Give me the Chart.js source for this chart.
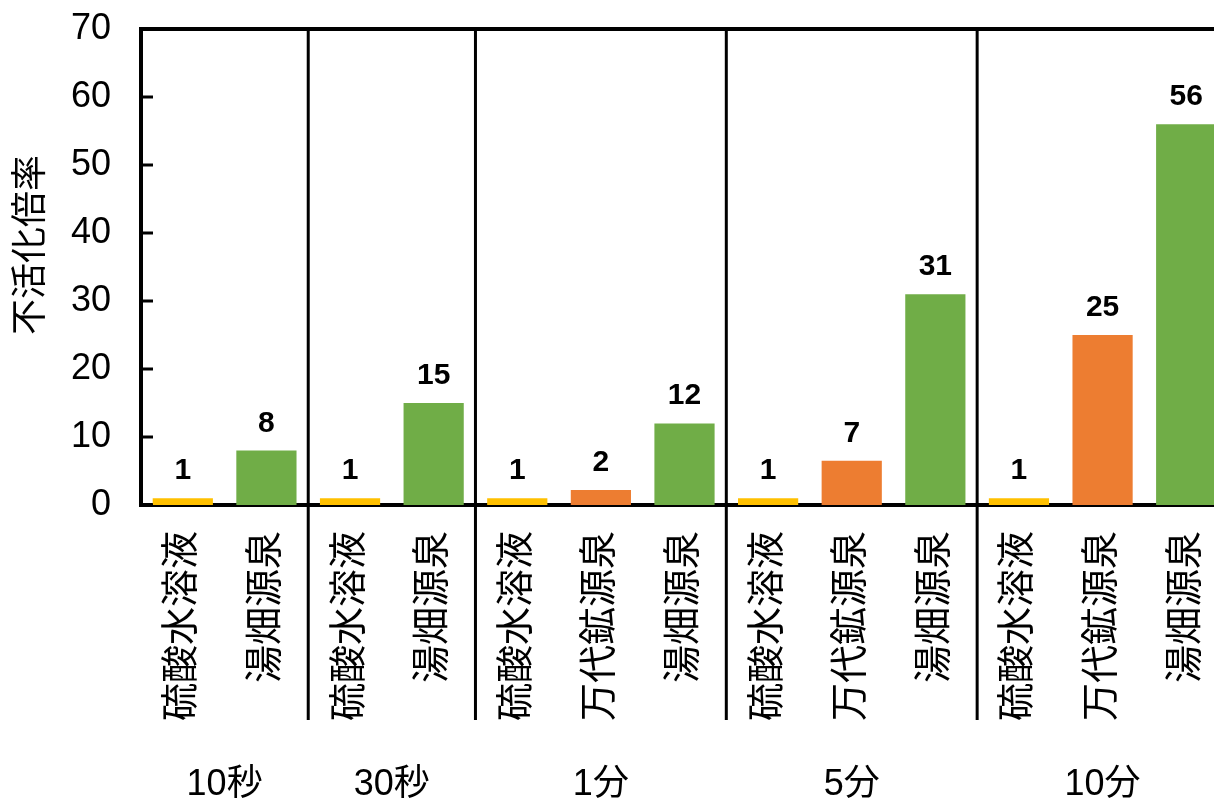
<!DOCTYPE html>
<html lang="ja">
<head>
<meta charset="utf-8">
<script src="https://cdn.jsdelivr.net/npm/chart.js@4/dist/chart.umd.min.js"></script>
<style>
  html, body { margin: 0; padding: 0; background: #fff; overflow: hidden; }
  #wrap { width: 1228px; height: 802px; position: relative; }
</style>
</head>
<body>
<div id="wrap"><canvas id="myChart"></canvas></div>
<script>
// データ
const categories = [
    "硫酸水溶液", "湯畑源泉",
    "硫酸水溶液", "湯畑源泉",
    "硫酸水溶液", "万代鉱源泉", "湯畑源泉",
    "硫酸水溶液", "万代鉱源泉", "湯畑源泉",
    "硫酸水溶液", "万代鉱源泉", "湯畑源泉"
];
const values = [1, 8, 1, 15, 1, 2.2, 12, 1, 6.5, 31, 1, 25, 56];
const groupLabels = ["10秒", "30秒", "1分", "5分", "10分"];
const groupSizes = [2, 2, 3, 3, 3];
const yTicks = [0, 10, 20, 30, 40, 50, 60, 70];

const colorMap = {
    "硫酸水溶液": "#FFC000",
    "万代鉱源泉": "#ED7D31",
    "湯畑源泉": "#70AD47",
};
const FONT = '"Liberation Sans", "Noto Sans CJK JP", sans-serif';

// 値ラベル、区切り線、グループ名などを描く
const decorPlugin = {
    id: "decor",
    afterDatasetsDraw(chart) {
        const ctx = chart.ctx;
        const meta = chart.getDatasetMeta(0);
        ctx.save();
        ctx.fillStyle = "#000";
        ctx.font = "bold 30px " + FONT;
        ctx.textAlign = "center";
        ctx.textBaseline = "alphabetic";
        meta.data.forEach((bar, i) => {
            ctx.fillText(String(Math.round(values[i])), bar.x, bar.y - 19);
        });
        ctx.restore();
    },
    afterDraw(chart) {
        const ctx = chart.ctx;
        const area = chart.chartArea;
        const x = chart.scales.x;
        const y = chart.scales.y;
        ctx.save();
        ctx.strokeStyle = "#000";

        // 上枠
        ctx.lineWidth = 4;
        ctx.beginPath();
        ctx.moveTo(area.left - 2, area.top);
        ctx.lineTo(area.right, area.top);
        ctx.stroke();

        // y軸の内向き目盛り
        ctx.lineWidth = 3;
        yTicks.forEach(v => {
            const py = y.getPixelForValue(v);
            ctx.beginPath();
            ctx.moveTo(area.left, py);
            ctx.lineTo(area.left + 12, py);
            ctx.stroke();
        });

        // グループの区切り線とラベル
        let start = 0;
        ctx.font = "36px " + FONT;
        ctx.fillStyle = "#000";
        ctx.textAlign = "center";
        ctx.textBaseline = "middle";
        groupSizes.forEach((n, g) => {
            const end = start + n - 1;
            const half = (x.getPixelForValue(1) - x.getPixelForValue(0)) / 2;
            const left = x.getPixelForValue(start) - half;
            const right = x.getPixelForValue(end) + half;
            if (g < groupSizes.length - 1) {
                ctx.lineWidth = 3;
                ctx.beginPath();
                ctx.moveTo(right, area.top - 2);
                ctx.lineTo(right, 720);
                ctx.stroke();
            }
            ctx.fillText(groupLabels[g], (left + right) / 2, 785);
            start += n;
        });

        // y軸タイトル
        ctx.translate(32, 245);
        ctx.rotate(-Math.PI / 2);
        ctx.font = "36px " + FONT;
        ctx.fillText("不活化倍率", 0, 0);
        ctx.restore();
    }
};

const ctx = document.getElementById("myChart").getContext("2d");
new Chart(ctx, {
    type: "bar",
    data: {
        labels: categories,
        datasets: [{
            label: "不活化倍率",
            data: values,
            backgroundColor: categories.map(c => colorMap[c]),
            borderWidth: 0,
            barPercentage: 0.72,
            categoryPercentage: 1,
        }],
    },
    options: {
        responsive: true,
        maintainAspectRatio: false,
        animation: false,
        layout: { padding: { top: 29, left: 0, right: 0, bottom: 0 } },
        plugins: {
            legend: { display: false },
            tooltip: { enabled: false },
        },
        scales: {
            x: {
                grid: { display: false, drawTicks: false },
                border: { display: true, color: "#000", width: 4 },
                ticks: {
                    color: "#000",
                    font: { family: FONT, size: 38 },
                    minRotation: 90,
                    maxRotation: 90,
                    autoSkip: false,
                    padding: 26,
                },
                afterFit(scale) {
                    scale.height = 297;
                    scale.paddingLeft = 0;
                    scale.paddingRight = 0;
                },
            },
            y: {
                min: 0,
                max: 70,
                grid: { display: false, drawTicks: false },
                border: { display: true, color: "#000", width: 4 },
                ticks: {
                    stepSize: 10,
                    color: "#000",
                    font: { family: FONT, size: 36 },
                    padding: 30,
                },
                afterFit(scale) {
                    scale.width = 141;
                    scale.paddingTop = 0;
                    scale.paddingBottom = 0;
                },
            },
        },
    },
    plugins: [decorPlugin],
});
</script>
</body>
</html>
